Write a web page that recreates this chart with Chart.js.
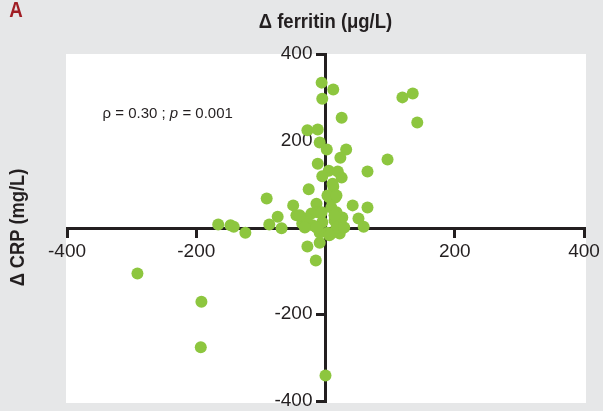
<!DOCTYPE html>
<html>
<head>
<meta charset="utf-8">
<script src="https://cdn.jsdelivr.net/npm/chart.js@4.4.1/dist/chart.umd.min.js"></script>
<style>
  html, body { margin: 0; padding: 0; background: #e6e7e8; }
  #wrap { position: relative; width: 603px; height: 411px; }
</style>
</head>
<body>
<div id="wrap"><canvas id="chart" width="603" height="411"></canvas></div>
<script>
// change in ferritin (x) and change in CRP (y), one entry per patient
const ferritinChange = [
  -6, 12, -5, 25, 119, 135, 142, -28, -12, -9,
  2, 32, 23, -12, 96, 65, 5, 19, 25, -5,
  -26, 12, 6, 15, 42, 65, -50, -45, 51, 59,
  26, -91, -74, -87, -68, -166, -147, -142, -124, -291,
  -192, -193, 0, -28, -15, -9, 22, 17, 14, -5,
  -20, -36, 9, 17, 3, -9, -14, -12, -22, -29,
  3, 11, -6, 9, 14, -32, -14, 29, 6, -40,
  17
];
const crpChange = [
  334, 318, 297, 253, 300, 309, 242, 224, 226, 196,
  180, 180, 161, 147, 157, 129, 131, 129, 115, 118,
  88, 94, 69, 69, 51, 46, 51, 28, 21, 2,
  23, 67, 25, 7, -2, 7, 5, 2, -12, -106,
  -171, -276, -341, -44, -76, -35, -14, 35, 16, 12,
  5, 9, -14, 0, -12, -12, 55, 35, 32, 21,
  74, 101, 35, 46, 28, 0, 0, 0, -18, 28,
  74
];
const tickValues = [-400, -200, 200, 400];

const axisColor = '#231f20';
const dotColor = '#8dc63f';
const tickFont = { family: "'Liberation Sans', Arial, sans-serif", size: 19 };

const points = ferritinChange.map((x, i) => ({ x: x, y: crpChange[i] }));

// draws text squeezed sideways, the original uses a condensed face
function narrowText(ctx, txt, x, y, squeeze) {
  ctx.save();
  ctx.translate(x, y);
  ctx.scale(squeeze, 1);
  ctx.fillText(txt, 0, 0);
  ctx.restore();
}

const decorPlugin = {
  id: 'decor',
  beforeDraw(chart) {
    const { ctx, chartArea } = chart;
    ctx.save();
    ctx.fillStyle = '#e6e7e8';
    ctx.fillRect(0, 0, chart.width, chart.height);
    ctx.fillStyle = '#ffffff';
    ctx.fillRect(chartArea.left - 1, chartArea.top, chartArea.right - chartArea.left + 3, chartArea.bottom - chartArea.top + 2);
    ctx.restore();
  },
  afterDraw(chart) {
    const { ctx, scales } = chart;
    ctx.save();
    ctx.textBaseline = 'middle';
    ctx.textAlign = 'center';

    // panel letter
    ctx.fillStyle = '#a01d24';
    ctx.font = "bold 22px 'Liberation Sans', sans-serif";
    narrowText(ctx, 'A', 16, 11, 0.85);

    // x title
    ctx.fillStyle = axisColor;
    ctx.font = "bold 21px 'Liberation Sans', sans-serif";
    narrowText(ctx, 'Δ ferritin (μg/L)', scales.x.getPixelForValue(0), 22, 0.88);

    // y title
    ctx.save();
    ctx.translate(18, scales.y.getPixelForValue(0));
    ctx.rotate(-Math.PI / 2);
    narrowText(ctx, 'Δ CRP (mg/L)', 0, 0, 0.87);
    ctx.restore();

    // correlation note
    let x = scales.x.getPixelForValue(-345);
    const y = scales.y.getPixelForValue(262);
    ctx.textAlign = 'left';
    const parts = [
      ['ρ = 0.30 ; ', "15px 'Liberation Sans', sans-serif"],
      ['p', "italic 15px 'Liberation Sans', sans-serif"],
      [' = 0.001', "15px 'Liberation Sans', sans-serif"]
    ];
    parts.forEach(([txt, font]) => {
      ctx.font = font;
      ctx.fillText(txt, x, y);
      x += ctx.measureText(txt).width;
    });
    ctx.restore();
  }
};

function axisOptions() {
  return {
    type: 'linear',
    position: 'center',
    min: -400,
    max: 400,
    z: 1,
    grid: {
      display: true,
      drawOnChartArea: false,
      drawTicks: true,
      tickLength: 8,
      color: axisColor,
      lineWidth: 3
    },
    border: { display: true, color: axisColor, width: 3 },
    ticks: {
      stepSize: 200,
      color: axisColor,
      font: tickFont,
      padding: 5,
      autoSkip: false,
      maxRotation: 0,
      callback: (v) => (tickValues.includes(v) ? String(v) : '')
    },
    // let layout.padding alone set the plot box
    afterFit: (scale) => {
      scale.paddingLeft = 0;
      scale.paddingRight = 0;
      scale.paddingTop = 0;
      scale.paddingBottom = 0;
    }
  };
}

new Chart(document.getElementById('chart'), {
  type: 'scatter',
  data: {
    datasets: [{
      data: points,
      backgroundColor: dotColor,
      borderWidth: 0,
      pointRadius: 6,
      pointHoverRadius: 6
    }]
  },
  options: {
    responsive: false,
    animation: false,
    devicePixelRatio: 1,
    layout: { padding: { left: 67, right: 19, top: 54, bottom: 10 } },
    plugins: { legend: { display: false }, tooltip: { enabled: false } },
    scales: {
      x: axisOptions(),
      y: axisOptions()
    }
  },
  plugins: [decorPlugin]
});
</script>
</body>
</html>
